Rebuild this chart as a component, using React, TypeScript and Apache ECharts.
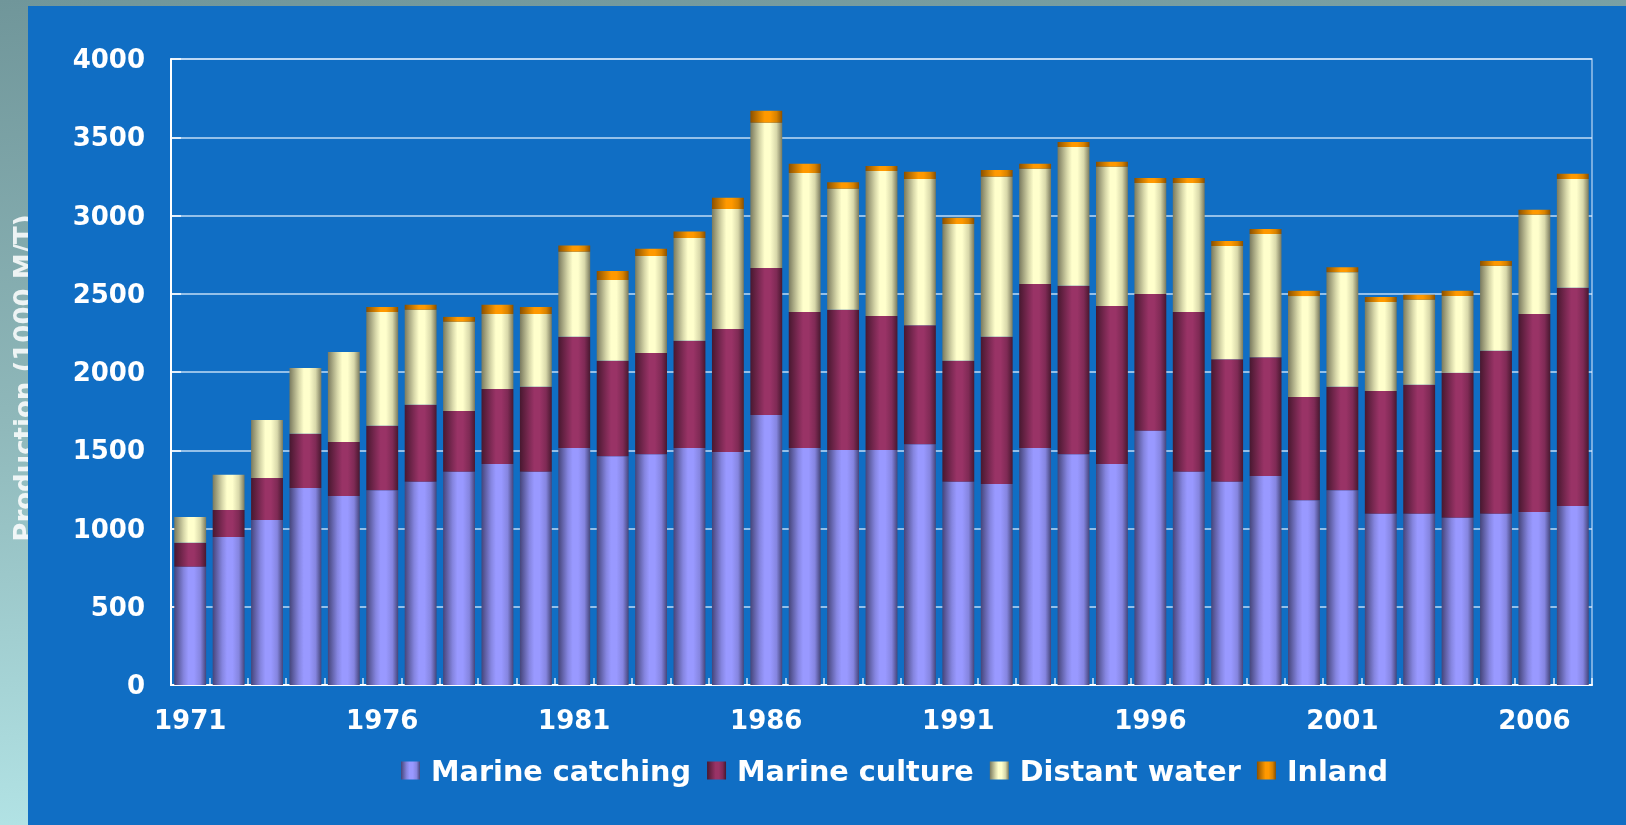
import React, { useEffect, useRef } from "react";
import * as echarts from "echarts";

// Annual production, thousand metric tons
const years = [
  "1971", "1972", "1973", "1974", "1975", "1976", "1977", "1978", "1979", "1980",
  "1981", "1982", "1983", "1984", "1985", "1986", "1987", "1988", "1989", "1990",
  "1991", "1992", "1993", "1994", "1995", "1996", "1997", "1998", "1999", "2000",
  "2001", "2002", "2003", "2004", "2005", "2006", "2007",
];

const marineCatching = [
  755, 946, 1054, 1258, 1208, 1245, 1298, 1362, 1412, 1362,
  1515, 1462, 1475, 1515, 1489, 1725, 1515, 1502, 1502, 1539,
  1298, 1285, 1515, 1475, 1412, 1624, 1362, 1298, 1335, 1181,
  1245, 1094, 1094, 1068, 1094, 1105, 1144,
];

const marineCulture = [
  154, 172, 268, 347, 344, 411, 493, 389, 479, 543,
  710, 610, 647, 684, 786, 940, 869, 895, 856, 760,
  774, 940, 1047, 1076, 1009, 874, 1022, 784, 760, 660,
  660, 784, 824, 927, 1041, 1266, 1394,
];

const distantWater = [
  164, 225, 371, 421, 575, 728, 606, 570, 480, 466,
  543, 516, 620, 657, 766, 927, 888, 774, 927, 935,
  874, 1023, 736, 887, 890, 710, 824, 723, 787, 644,
  733, 570, 543, 490, 543, 633, 696,
];

const inland = [
  0, 0, 0, 0, 0, 32, 32, 31, 58, 45,
  40, 58, 45, 42, 72, 77, 58, 42, 32, 45,
  39, 42, 32, 32, 32, 32, 32, 32, 32, 34,
  32, 31, 32, 34, 32, 32, 32,
];

const seriesNames = ["Marine catching", "Marine culture", "Distant water", "Inland"];

const FONT = '"DejaVu Sans", "Noto Sans", sans-serif';

// cylinder-like shading across each bar
function shade(dark: string, light: string, mid: string) {
  return new echarts.graphic.LinearGradient(0, 0, 1, 0, [
    { offset: 0, color: dark },
    { offset: 0.3, color: mid },
    { offset: 0.45, color: light },
    { offset: 0.62, color: light },
    { offset: 0.82, color: mid },
    { offset: 1, color: dark },
  ]);
}

export default function App() {
  const ref = useRef<HTMLDivElement>(null);

  useEffect(() => {
    if (!ref.current) return;
    const chart = echarts.init(ref.current, null, { renderer: "svg" });

    const fills = [
      shade("#45457a", "#9999ff", "#8585e0"),
      shade("#48182f", "#993366", "#7f2a55"),
      shade("#7a7a5e", "#ffffcc", "#d8d8aa"),
      shade("#8a5000", "#ff9900", "#d88200"),
    ];
    const data = [marineCatching, marineCulture, distantWater, inland];

    chart.setOption({
      animation: false,
      backgroundColor: "transparent",
      graphic: [
        {
          type: "rect",
          z: -20,
          shape: { x: 0, y: 0, width: 1626, height: 825 },
          style: {
            fill: new echarts.graphic.LinearGradient(0, 0, 0.15, 1, [
              { offset: 0, color: "#70969a" },
              { offset: 0.5, color: "#8fb8ba" },
              { offset: 1, color: "#b3e4e6" },
            ]),
          },
          silent: true,
        },
        {
          type: "text",
          z: -15,
          x: 11,
          y: 378,
          rotation: Math.PI / 2,
          style: {
            text: "Production (1000 M/T)",
            fill: "rgba(255,255,255,0.85)",
            font: `bold 26px ${FONT}`,
            align: "center",
            verticalAlign: "top",
          },
          silent: true,
        },
        {
          type: "rect",
          z: -10,
          shape: { x: 28, y: 6, width: 1598, height: 819 },
          style: { fill: "#106ec4" },
          silent: true,
        },
      ],
      grid: {
        left: 171,
        right: 34,
        top: 59,
        bottom: 140,
        show: true,
        z: 1,
        backgroundColor: "transparent",
        borderColor: "rgba(190,215,245,0.8)",
        borderWidth: 1.5,
      },
      legend: {
        left: 396,
        top: 751,
        itemWidth: 19,
        itemHeight: 18,
        itemGap: 16,
        icon: "rect",
        data: seriesNames,
        textStyle: {
          color: "#ffffff",
          fontFamily: FONT,
          fontWeight: "bold",
          fontSize: 28.7,
          padding: [0, 0, 0, 6],
        },
      },
      xAxis: {
        type: "category",
        data: years,
        z: 3,
        axisLine: { show: true, lineStyle: { color: "#ffffff", width: 2 } },
        axisTick: {
          show: true,
          inside: true,
          length: 7,
          interval: 0,
          lineStyle: { color: "rgba(255,255,255,0.85)", width: 1.5 },
        },
        axisLabel: {
          interval: 4,
          margin: 22,
          color: "#ffffff",
          fontFamily: FONT,
          fontWeight: "bold",
          fontSize: 26,
        },
        splitLine: { show: false },
      },
      yAxis: {
        type: "value",
        min: 0,
        max: 4000,
        interval: 500,
        z: 3,
        axisLine: { show: true, lineStyle: { color: "#ffffff", width: 2 } },
        axisTick: {
          show: true,
          inside: true,
          length: 10,
          lineStyle: { color: "#ffffff", width: 1.5 },
        },
        axisLabel: {
          margin: 26,
          color: "#ffffff",
          fontFamily: FONT,
          fontWeight: "bold",
          fontSize: 26,
          formatter: (v: number) => String(v),
        },
        splitLine: {
          show: true,
          lineStyle: { color: "rgba(225,238,255,0.85)", width: 1.5 },
        },
      },
      series: seriesNames.map((name, i) => ({
        name,
        type: "bar",
        stack: "total",
        z: 4,
        barCategoryGap: "17%",
        data: data[i],
        itemStyle: { color: fills[i] },
        emphasis: { disabled: true },
      })),
    });

    return () => chart.dispose();
  }, []);

  return (
    <div
      ref={ref}
      style={{ position: "fixed", left: 0, top: 0, width: 1626, height: 825 }}
    />
  );
}
